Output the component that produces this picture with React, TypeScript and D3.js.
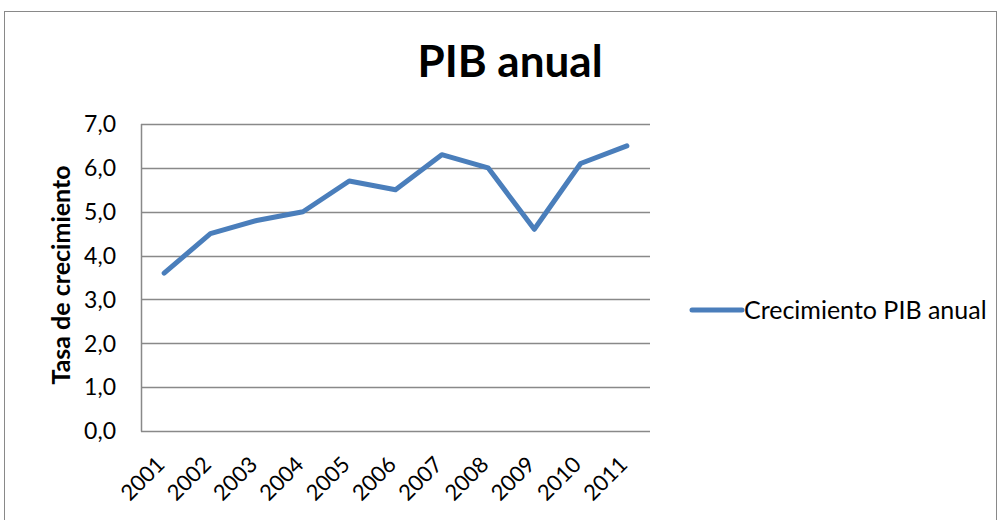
import { useEffect, useRef } from "react";
import * as d3 from "d3";

const years = ["2001", "2002", "2003", "2004", "2005", "2006", "2007", "2008", "2009", "2010", "2011"];
const growth = [3.6, 4.5, 4.8, 5.0, 5.7, 5.5, 6.3, 6.0, 4.6, 6.1, 6.5];
const yTicks = [0, 1, 2, 3, 4, 5, 6, 7];
const seriesName = "Crecimiento PIB anual";

const W = 999;
const H = 520;
const FONT = "Lato, 'Open Sans', sans-serif";

export default function App() {
  const ref = useRef<SVGSVGElement | null>(null);

  useEffect(() => {
    if (!ref.current) return;
    const svg = d3.select(ref.current);
    svg.selectAll("*").remove();

    const plot = { left: 141, right: 650, top: 124, bottom: 431 };
    const blue = "#4a7ebb";
    const grid = "#898989";

    // chart border
    svg
      .append("rect")
      .attr("x", 4.5)
      .attr("y", 11.5)
      .attr("width", W - 7)
      .attr("height", H)
      .attr("fill", "white")
      .attr("stroke", grid)
      .attr("stroke-width", 1);

    const x = d3.scaleBand<string>().domain(years).range([plot.left, plot.right]);
    const y = d3.scaleLinear().domain([0, 7]).range([plot.bottom, plot.top]);

    // gridlines
    svg
      .append("g")
      .selectAll("line")
      .data(yTicks)
      .join("line")
      .attr("x1", plot.left)
      .attr("x2", plot.right)
      .attr("y1", (d) => Math.round(y(d)) + 0.5)
      .attr("y2", (d) => Math.round(y(d)) + 0.5)
      .attr("stroke", grid)
      .attr("stroke-width", 1.5);

    // y axis line
    svg
      .append("line")
      .attr("x1", plot.left + 0.5)
      .attr("x2", plot.left + 0.5)
      .attr("y1", plot.top)
      .attr("y2", plot.bottom + 0.5)
      .attr("stroke", grid)
      .attr("stroke-width", 1.5);

    // y tick labels
    svg
      .append("g")
      .selectAll("text")
      .data(yTicks)
      .join("text")
      .attr("x", plot.left - 25)
      .attr("y", (d) => y(d))
      .attr("dy", "0.36em")
      .attr("text-anchor", "end")
      .attr("font-family", FONT)
      .attr("font-size", 23)
      .attr("fill", "#000")
      .text((d) => d.toFixed(1).replace(".", ","));

    // x tick labels
    svg
      .append("g")
      .selectAll("text")
      .data(years)
      .join("text")
      .attr("transform", (d) => `translate(${x(d)! + x.bandwidth() / 2 + 2},${plot.bottom + 35}) rotate(-45)`)
      .attr("text-anchor", "end")
      .attr("font-family", FONT)
      .attr("font-size", 22)
      .attr("fill", "#000")
      .text((d) => d);

    // line
    const line = d3
      .line<number>()
      .x((_, i) => x(years[i])! + x.bandwidth() / 2)
      .y((d) => y(d));

    svg
      .append("path")
      .datum(growth)
      .attr("d", line)
      .attr("fill", "none")
      .attr("stroke", blue)
      .attr("stroke-width", 5)
      .attr("stroke-linejoin", "round")
      .attr("stroke-linecap", "round");

    // title
    svg
      .append("text")
      .attr("x", 510)
      .attr("y", 77)
      .attr("text-anchor", "middle")
      .attr("font-family", FONT)
      .attr("font-weight", "bold")
      .attr("font-size", 44)
      .attr("fill", "#000")
      .text("PIB anual");

    // y axis title
    svg
      .append("text")
      .attr("transform", `translate(70,275) rotate(-90)`)
      .attr("text-anchor", "middle")
      .attr("font-family", FONT)
      .attr("font-weight", "bold")
      .attr("font-size", 25)
      .attr("fill", "#000")
      .text("Tasa de crecimiento");

    // legend
    const lg = svg.append("g").attr("transform", "translate(692,310)");
    lg.append("line")
      .attr("x1", 0)
      .attr("x2", 50)
      .attr("stroke", blue)
      .attr("stroke-width", 5)
      .attr("stroke-linecap", "round");
    lg.append("text")
      .attr("x", 52)
      .attr("dy", "0.36em")
      .attr("font-family", FONT)
      .attr("font-size", 25)
      .attr("fill", "#000")
      .text(seriesName);
  }, []);

  return (
    <svg
      ref={ref}
      width={W}
      height={H}
      style={{ position: "absolute", left: 0, top: 0, background: "white" }}
    />
  );
}
